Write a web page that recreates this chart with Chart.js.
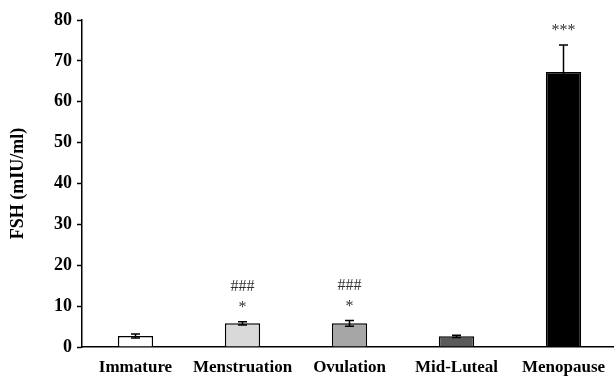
<!DOCTYPE html>
<html>
<head>
<meta charset="utf-8">
<script src="https://cdn.jsdelivr.net/npm/chart.js@4"></script>
<style>
  html, body { margin: 0; padding: 0; background: #fff; overflow: hidden; }
  #wrap { width: 617px; height: 378px; }
</style>
</head>
<body>
<div id="wrap"><canvas id="myChart"></canvas></div>
<script>
const categories = ['Immature', 'Menstruation', 'Ovulation', 'Mid-Luteal', 'Menopause'];
const fshMeans = [2.7, 5.8, 5.8, 2.6, 67.3];
const fshErrors = [0.5, 0.4, 0.7, 0.3, 6.6];
const starMarks = ['', '*', '*', '', '***'];
const hashMarks = ['', '###', '###', '', ''];
const barColors = ['#ffffff', '#d9d9d9', '#a6a6a6', '#595959', '#000000'];
const yTicks = [0, 10, 20, 30, 40, 50, 60, 70, 80];

const serif = '"Liberation Serif", "Times New Roman", serif';

// error bars + significance marks
const errorBars = {
    id: 'errorBars',
    afterDatasetsDraw(chart) {
        const ctx = chart.ctx;
        const meta = chart.getDatasetMeta(0);
        const y = chart.scales.y;
        ctx.save();
        ctx.strokeStyle = '#000';
        ctx.lineWidth = 1.5;
        meta.data.forEach((bar, i) => {
            const top = y.getPixelForValue(fshMeans[i] + fshErrors[i]);
            const bot = y.getPixelForValue(fshMeans[i] - fshErrors[i]);
            ctx.beginPath();
            ctx.moveTo(bar.x, top); ctx.lineTo(bar.x, bot);
            ctx.moveTo(bar.x - 4.5, top); ctx.lineTo(bar.x + 4.5, top);
            ctx.moveTo(bar.x - 4.5, bot); ctx.lineTo(bar.x + 4.5, bot);
            ctx.stroke();

            ctx.fillStyle = '#333';
            ctx.font = '16px ' + serif;
            ctx.textAlign = 'center';
            ctx.textBaseline = 'middle';
            if (starMarks[i]) ctx.fillText(starMarks[i], bar.x, top - 14);
            if (hashMarks[i]) ctx.fillText(hashMarks[i], bar.x, top - 35);
        });
        ctx.restore();
    }
};

const ctx = document.getElementById('myChart').getContext('2d');
const myChart = new Chart(ctx, {
    type: 'bar',
    data: {
        labels: categories,
        datasets: [{
            label: 'FSH',
            data: fshMeans,
            backgroundColor: barColors,
            borderColor: '#000',
            borderWidth: 1.5,
            borderSkipped: 'bottom',
            categoryPercentage: 1,
            barPercentage: 0.33
        }]
    },
    options: {
        responsive: true,
        maintainAspectRatio: false,
        animation: false,
        layout: { padding: { top: 20, right: 0, left: 0, bottom: 0 } },
        plugins: { legend: { display: false }, tooltip: { enabled: false } },
        scales: {
            x: {
                afterFit: (s) => { s.height = 31; },
                grid: { display: false, drawTicks: false },
                border: { color: '#000', width: 1.5 },
                ticks: {
                    color: '#000',
                    padding: 10,
                    font: { family: serif, size: 17, weight: 'bold' }
                }
            },
            y: {
                min: 0,
                max: 80,
                afterBuildTicks: (s) => { s.ticks = yTicks.map(v => ({ value: v })); },
                afterFit: (s) => { s.width = 82; },
                grid: { drawOnChartArea: false, tickLength: 5, color: '#000', tickWidth: 1.5 },
                border: { color: '#000', width: 1.5 },
                ticks: {
                    color: '#000',
                    padding: 5,
                    font: { family: serif, size: 18, weight: 'bold' }
                },
                title: {
                    display: true,
                    text: 'FSH (mIU/ml)',
                    color: '#000',
                    padding: { top: 8, bottom: 0 },
                    font: { family: serif, size: 18, weight: 'bold' }
                }
            }
        }
    },
    plugins: [errorBars]
});
</script>
</body>
</html>
